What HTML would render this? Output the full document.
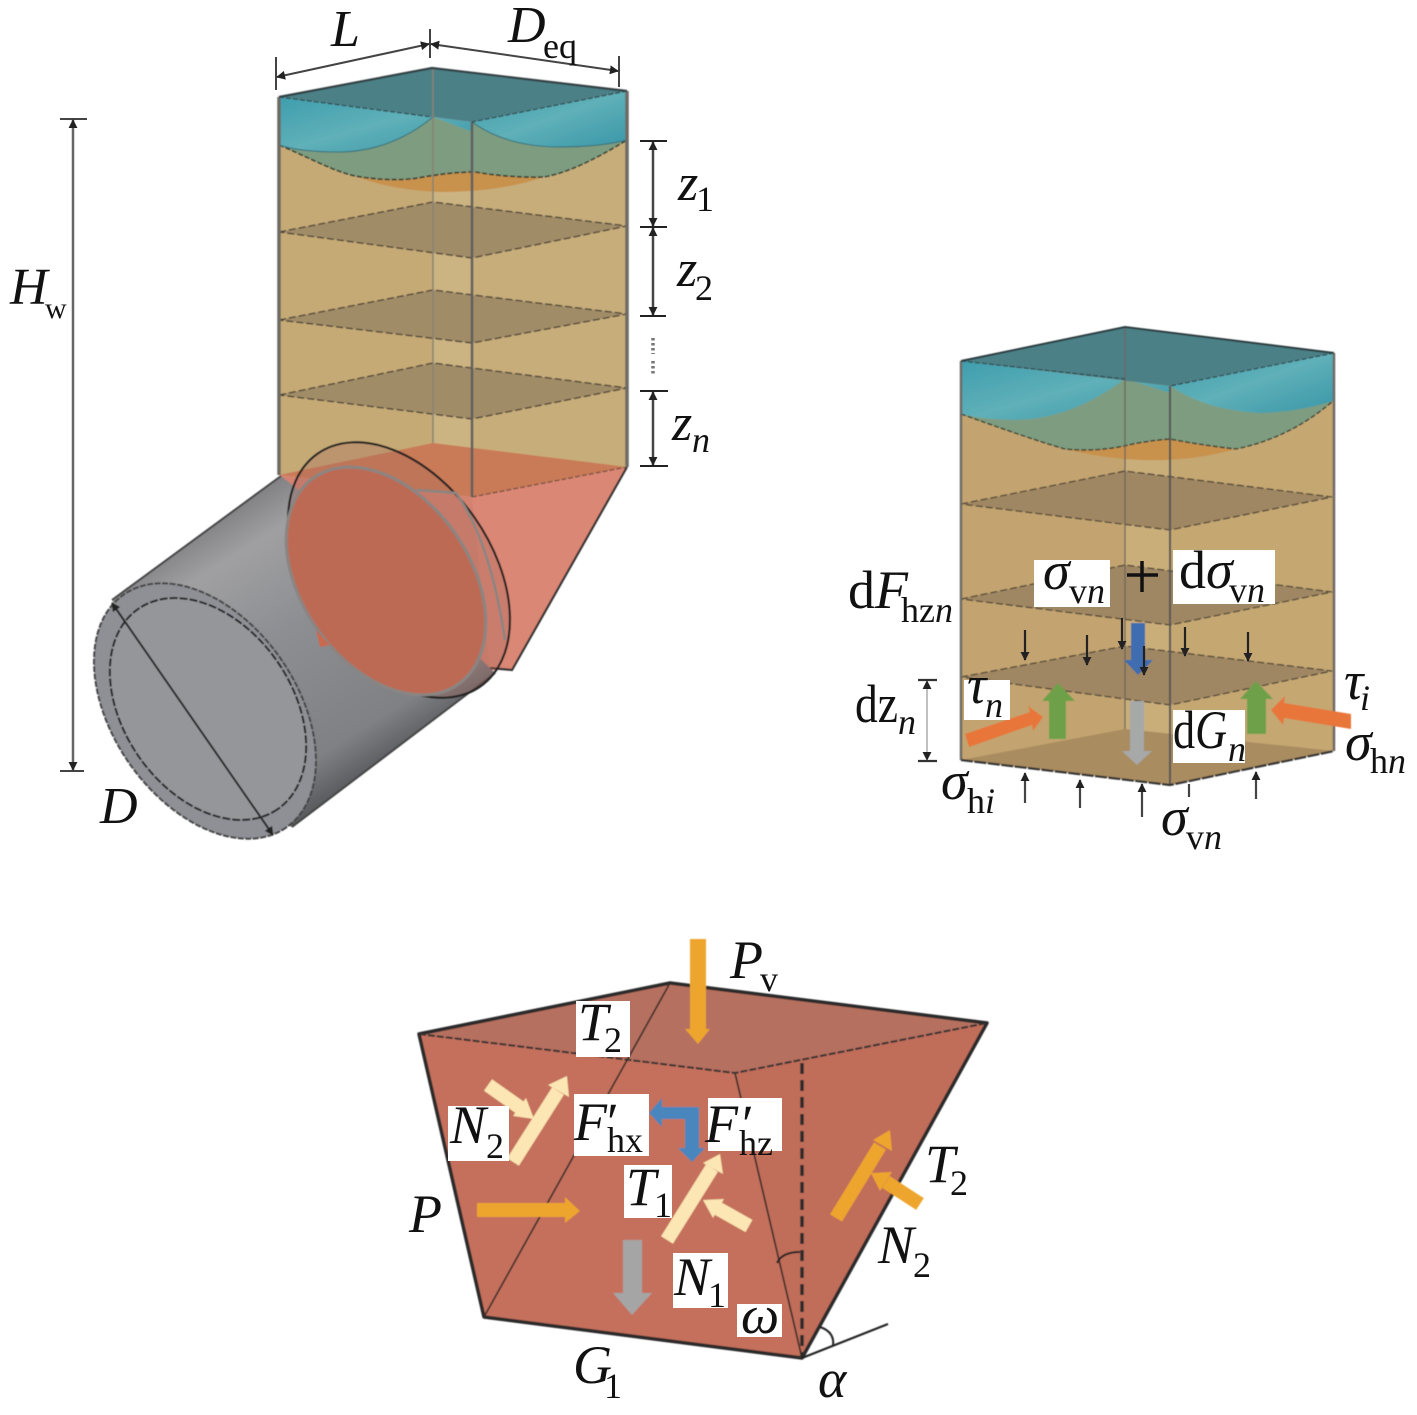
<!DOCTYPE html>
<html><head><meta charset="utf-8"><style>
html,body{margin:0;padding:0;background:#fff}
svg{display:block}
text{font-family:"Liberation Serif","DejaVu Serif",serif;fill:#111;font-size:54px}
.i{font-style:italic}
.s{font-size:36px}
.c{font-size:52px}
</style></head><body>
<svg width="1417" height="1415" viewBox="0 0 1417 1415" xmlns="http://www.w3.org/2000/svg">
<defs>
<linearGradient id="w1" x1="0" y1="0" x2="1" y2="1"><stop offset="0" stop-color="#3f9eae"/><stop offset=".5" stop-color="#5fb0b8"/><stop offset="1" stop-color="#3a97a8"/></linearGradient>
<linearGradient id="cylb" gradientUnits="userSpaceOnUse" x1="200" y1="510" x2="370" y2="780"><stop offset="0" stop-color="#77777a"/><stop offset=".18" stop-color="#a0a0a2"/><stop offset=".45" stop-color="#8e8f93"/><stop offset=".85" stop-color="#808185"/><stop offset="1" stop-color="#55575a"/></linearGradient>
<filter id="soft" x="-5%" y="-5%" width="110%" height="110%"><feGaussianBlur stdDeviation=".6"/></filter>
<marker id="a" viewBox="0 0 10 10" refX="9" refY="5" markerWidth="9" markerHeight="10" markerUnits="userSpaceOnUse" orient="auto-start-reverse"><path d="M0 0L10 5L0 10Z" fill="#222"/></marker>
</defs>

<g filter="url(#soft)">
<!-- COLUMN 1 -->
<polygon points="279,97 472,122 472,497 279,475" fill="#c6aa76"/>
<polygon points="472,122 627,91 627,466 472,497" fill="#c7ad7a"/>
<polygon points="433,117 472,122 472,497 433,445" fill="#ccb482"/>
<!-- water -->
<path d="M279,97 L472,122 L472,132 L433,117 Q390,152 338,152 Q300,152 279,145Z" fill="url(#w1)"/>
<path d="M279,145 Q300,152 338,152 Q390,152 433,117 L472,132 L472,172 Q450,172 418,178 Q390,182 355,176 C335,172 310,158 279,145Z" fill="#7d9c80"/>
<path d="M472,122 L627,91 V140 Q600,147 557,147 Q505,146 472,122Z" fill="url(#w1)"/>
<path d="M472,122 Q505,146 557,147 Q600,147 627,140 Q575,172 544,177 Q510,178 472,172Z" fill="#7d9c80"/>
<path d="M355,176 Q390,182 418,178 Q450,172 475,172 Q510,178 544,177 Q500,192 440,192 Q390,190 355,176Z" fill="#c8924e"/>
<polygon points="279,97 432,68 627,91 472,122" fill="#4b8087"/>
<path d="M279,145 C310,158 335,172 355,176 Q390,182 418,178 Q450,172 475,172 Q510,178 544,177 Q575,172 627,140" fill="none" stroke="#2f3a30" stroke-width="1.6" stroke-dasharray="5 2"/>
<path d="M279,145 Q300,152 338,152 Q390,152 433,117 M472,122 Q505,146 557,147 Q600,147 627,140" fill="none" stroke="#35707c" stroke-width="1"/>
<!-- layers -->
<g fill="#a18c68" stroke="#4a4234" stroke-width="1.4" stroke-dasharray="7 3">
<polygon points="279,232 433,202 627,226 472,258"/>
<polygon points="279,320 433,290 627,314 472,343"/>
<polygon points="279,395 433,363 627,388 472,419"/>
</g>
<!-- wedge -->
<polygon points="279,475 472,497 512,670 490,670" fill="#d58270"/>
<polygon points="472,497 627,467 512,670 490,670" fill="#db8775"/>
<polygon points="279,475 433,443 627,467 472,497" fill="#c97a56"/>
<path d="M627,467 L512,670 L490,668" fill="none" stroke="#333" stroke-width="2.2"/>
<path d="M472,497 L627,467" stroke="#6a4a3c" stroke-width="1.2" stroke-dasharray="5 2"/>
<!-- outlines -->
<path d="M279,97 V475 M627,91 V467" stroke="#6d6a64" stroke-width="3.5" fill="none"/>
<path d="M472,122 V497" stroke="#5f5f5f" stroke-width="2.5"/>
<path d="M433,68 V443" stroke="#8a8272" stroke-width="1.5"/>
<path d="M279,97 L432,68 L627,91" stroke="#333f42" stroke-width="2.2" fill="none"/>
<path d="M279,97 L432,117 M627,91 L472,122" stroke="#2e4448" stroke-width="1.2" stroke-dasharray="5 2" fill="none"/>

<!-- CYLINDER -->
<path d="M112,600 L281,476 L350,530 L495,673 L292,827 L190,780Z" fill="url(#cylb)"/>
<path d="M112,600 L281,476 M292,827 L495,673" stroke="#444" stroke-width="2" fill="none"/>
<ellipse cx="399" cy="570" rx="142" ry="92" transform="rotate(55 399 570)" fill="#a86a5c" fill-opacity=".32" stroke="#222" stroke-width="2.2"/>
<path d="M417,490 L456,493 Q490,540 505,640" fill="none" stroke="#8a8582" stroke-width="2.5"/>
<ellipse cx="386" cy="581" rx="126" ry="84" transform="rotate(55 386 581)" fill="#bd6a55" stroke="#8a8582" stroke-width="3"/>
<polygon points="316,630 330,645 320,647" fill="#c9694f"/>
<ellipse cx="205" cy="711" rx="142" ry="92" transform="rotate(55 205 711)" fill="#8f9096" stroke="#444" stroke-width="2" stroke-dasharray="6 1.5"/>
<ellipse cx="208" cy="709" rx="122" ry="84" transform="rotate(55 208 709)" fill="#95969a" stroke="#222" stroke-width="2" stroke-dasharray="8 2"/>
<path d="M112,603 L273,835" stroke="#222" stroke-width="2" marker-start="url(#a)" marker-end="url(#a)"/>
</g>

<!-- dims col 1 -->
<g fill="none" stroke="#444" stroke-width="2">
<path d="M276,57V90M430,29V58M619,56V87"/>
<path d="M277,77L429,44" marker-start="url(#a)" marker-end="url(#a)"/>
<path d="M431,44L618,71" marker-start="url(#a)" marker-end="url(#a)"/>
<path d="M60,119H87M60,771H84"/>
<path d="M73,120V770" stroke-width="2.5" stroke="#666" marker-start="url(#a)" marker-end="url(#a)"/>
<path d="M640,141H667M640,227H667M640,316H666M640,391H668M640,466H668" stroke="#222"/>
<path d="M653,142V226" marker-start="url(#a)" marker-end="url(#a)" stroke-width="2.5"/>
<path d="M653,228V315" marker-start="url(#a)" marker-end="url(#a)" stroke-width="2.5"/>
<path d="M653,392V465" marker-start="url(#a)" marker-end="url(#a)" stroke-width="2.5"/>
<path d="M653,338V354M653,361V376" stroke="#777" stroke-width="3.5" stroke-dasharray="2.5 2.5"/>
</g>

<!-- COLUMN 2 -->
<g filter="url(#soft)">
<polygon points="961,361 1170,386 1170,785 961,760" fill="#c3a46f"/>
<polygon points="1170,386 1334,353 1334,751 1170,785" fill="#c5a772"/>
<polygon points="1125,379 1170,386 1170,785 1125,729" fill="#caae7a"/>
<path d="M961,361 L1170,386 L1170,393 L1125,379 Q1070,420 1015,420 Q985,420 961,414Z" fill="url(#w1)"/>
<path d="M961,414 Q985,420 1015,420 Q1070,420 1125,379 L1170,393 L1170,439 Q1145,441 1124,446 Q1095,452 1065,449 C1040,442 1000,428 961,414Z" fill="#7d9c80"/>
<path d="M1170,386 L1334,353 V401 Q1295,413 1258,413 Q1205,410 1170,386Z" fill="url(#w1)"/>
<path d="M1170,386 Q1205,410 1258,413 Q1295,413 1333,401 Q1290,438 1236,449 Q1200,445 1170,439Z" fill="#7d9c80"/>
<path d="M1065,449 Q1095,452 1124,446 Q1145,441 1170,439 Q1200,445 1236,449 Q1190,462 1140,460 Q1100,458 1065,449Z" fill="#c8924e"/>
<polygon points="961,361 1125,327 1334,353 1170,386" fill="#4b8087"/>
<path d="M961,414 C1000,428 1040,442 1065,449 Q1095,452 1124,446 Q1145,441 1170,439 Q1200,445 1236,449 Q1290,438 1333,401" fill="none" stroke="#2f3a30" stroke-width="1.4" stroke-dasharray="5 2"/>
<g fill="#a08763" stroke="#4a4234" stroke-width="1.3" stroke-dasharray="7 3">
<polygon points="961,504 1125,471 1332,497 1170,530"/>
<polygon points="961,599 1125,565 1332,592 1170,625"/>
<polygon points="961,677 1125,646 1332,671 1170,705"/>
</g>
<polygon points="961,760 1125,729 1334,751 1170,785" fill="#a98c60"/>
<path d="M961,361V760M1334,353V751" stroke="#6d6a64" stroke-width="2.5"/>
<path d="M1170,386V785" stroke="#555" stroke-width="2"/>
<path d="M1125,327V729" stroke="#6b665c" stroke-width="1.3"/>
<path d="M961,361L1125,327L1334,353" fill="none" stroke="#2c3a3d" stroke-width="2"/>
<path d="M961,361L1125,379M1334,353L1170,386" fill="none" stroke="#2e4448" stroke-width="1.2" stroke-dasharray="5 2"/>
<path d="M961,760L1170,785L1334,751" fill="none" stroke="#333" stroke-width="2.2" stroke-dasharray="12 1.5"/>

<!-- thick arrows col 2 -->
<polygon points="1131,623 1145,623 1145,660 1153,660 1138,675 1124,660 1131,660" fill="#3f6cb0"/>
<polygon points="1130,701 1144,701 1144,751 1152,751 1137,765 1122,751 1130,751" fill="#a7a8a8"/>
<polygon points="1049,739 1066,739 1066,701 1075,701 1058,683 1042,701 1049,701" fill="#6ea048"/>
<polygon points="1247,734 1266,734 1266,699 1273,699 1256,681 1240,699 1247,699" fill="#6ea048"/>
<polygon points="965,734 1030,712 1028,706 1043,717 1033,731 1032,725 969,747" fill="#e8763a"/>
<polygon points="1351,714 1284,703 1285,696 1271,710 1283,725 1284,718 1351,729" fill="#e8763a"/>
</g>

<!-- small arrows -->
<g stroke="#222" stroke-width="2.2" fill="none">
<path d="M1025,630V660" marker-end="url(#a)"/>
<path d="M1087,635V665" marker-end="url(#a)"/>
<path d="M1122,618V649" marker-end="url(#a)"/>
<path d="M1144,646V675" marker-end="url(#a)"/>
<path d="M1185,627V656" marker-end="url(#a)"/>
<path d="M1248,632V661" marker-end="url(#a)"/>
<path d="M1025,803V773" stroke="#444" marker-end="url(#a)"/>
<path d="M1080,808V780" stroke="#444" marker-end="url(#a)"/>
<path d="M1142,817V784" stroke="#444" marker-end="url(#a)"/>
<path d="M1189,797V784" stroke="#444"/>
<path d="M1256,799V772" stroke="#444" marker-end="url(#a)"/>
<path d="M918,680H937M918,761H937" stroke="#333"/>
</g>
<path d="M927,681V760" stroke="#aaa" stroke-width="1.5" fill="none" marker-start="url(#a)" marker-end="url(#a)"/>

<!-- boxes col 2 -->
<g fill="#fff">
<rect x="1034" y="560" width="76" height="47"/>
<rect x="1173" y="550" width="102" height="54"/>
<rect x="964" y="680" width="46" height="40"/>
<rect x="1173" y="710" width="72" height="53"/>
</g>
<path d="M1127,575H1158M1142,561V592" stroke="#111" stroke-width="3.5"/>

<!-- BOTTOM WEDGE -->
<g filter="url(#soft)">
<polygon points="419,1034 670,983 987,1023 802,1358 484,1317" fill="#c4705c"/>
<polygon points="419,1034 670,983 987,1023 735,1073" fill="#b6705f"/>
<polygon points="735,1073 987,1023 802,1358" fill="#c06d5a"/>
<path d="M419,1034L670,983L987,1023L802,1358L484,1317Z" fill="none" stroke="#2a2a2a" stroke-width="3.5" stroke-linejoin="round"/>
<path d="M670,983L484,1317M735,1073L802,1358" stroke="#3a2d2a" stroke-width="1.7" fill="none"/>
<path d="M419,1034L735,1073L987,1023" stroke="#333" stroke-width="2" stroke-dasharray="7 2" fill="none"/>
<path d="M802,1063V1358" stroke="#2a2a2a" stroke-width="3.5" stroke-dasharray="11 6" fill="none"/>
<path d="M802,1358L888,1324" stroke="#222" stroke-width="2.2"/>
<path d="M820,1327Q835,1332 833,1346" stroke="#222" stroke-width="2" fill="none"/>
<path d="M777,1263Q782,1252 800,1252" stroke="#222" stroke-width="2" fill="none"/>

<!-- arrows -->
<polygon points="690,939 706,939 706,1029 710,1029 698,1044 685,1029 690,1029" fill="#eda52e"/>
<polygon points="477,1203 565,1203 565,1197 580,1211 565,1223 565,1217 477,1217" fill="#eda52e"/>
<polygon points="623,1240 642,1240 642,1293 652,1293 632,1315 613,1293 623,1293" fill="#a5a5a5"/>
<polygon points="649,1113 662,1098 662,1107 699,1107 699,1148 705,1148 692,1162 678,1148 685,1148 685,1119 662,1119 662,1127" fill="#4a86bd"/>
<g fill="none" stroke-width="14">
<path d="M513,1162L558,1091" stroke="#fbe6b4"/>
<path d="M488,1085L522,1109" stroke="#fbe6b4"/>
<path d="M667,1240L712,1168" stroke="#fbe6b4"/>
<path d="M749,1226L717,1208" stroke="#fbe6b4"/>
<path d="M836,1218L880,1146" stroke="#eda52e"/>
<path d="M920,1204L886,1182" stroke="#eda52e"/>
</g>
<polygon points="567,1076 569,1097 548,1085" fill="#fbe6b4"/>
<polygon points="534,1119 513,1116 526,1098" fill="#fbe6b4"/>
<polygon points="720,1154 723,1174 703,1163" fill="#fbe6b4"/>
<polygon points="703,1200 724,1199 713,1218" fill="#fbe6b4"/>
<polygon points="890,1130 892,1151 873,1140" fill="#eda52e"/>
<polygon points="871,1173 892,1172 880,1191" fill="#eda52e"/>
</g>

<!-- boxes bottom -->
<g fill="#fff">
<rect x="576" y="1001" width="54" height="56"/>
<rect x="448" y="1106" width="61" height="55"/>
<rect x="574" y="1094" width="75" height="62"/>
<rect x="708" y="1098" width="74" height="53"/>
<rect x="624" y="1165" width="48" height="53"/>
<rect x="673" y="1253" width="55" height="55"/>
<rect x="737" y="1304" width="45" height="33"/>
</g>

<!-- LABELS col 1 -->
<text class="i c" x="331" y="46">L</text>
<text class="i c" x="508" y="42">D</text><text class="s" x="543" y="58">eq</text>
<text class="i c" x="10" y="304">H</text><text x="45" y="318" style="font-size:30px">w</text>
<text class="i c" x="678" y="200">z</text><text class="s" x="696" y="211">1</text>
<text class="i c" x="677" y="286">z</text><text class="s" x="695" y="300">2</text>
<text class="i c" x="672" y="440">z</text><text class="i s" x="692" y="452">n</text>
<text class="i c" x="100" y="823">D</text>

<!-- LABELS col 2 -->
<text x="848" y="608">d<tspan class="i">F</tspan></text><text class="s" x="901" y="622">hz<tspan class="i">n</tspan></text>
<text class="i" x="1043" y="589">σ</text><text class="s" x="1069" y="603">v<tspan class="i">n</tspan></text>
<text x="1179" y="588">d<tspan class="i">σ</tspan></text><text class="s" x="1229" y="602">v<tspan class="i">n</tspan></text>
<text x="855" y="722" textLength="43" lengthAdjust="spacingAndGlyphs">dz</text><text class="i s" x="898" y="734">n</text>
<text class="i" x="967" y="703">τ</text><text class="i s" x="985" y="717">n</text>
<text class="i" x="1344" y="699">τ</text><text class="i s" x="1360" y="710">i</text>
<text x="1173" y="748" textLength="54" lengthAdjust="spacingAndGlyphs">d<tspan class="i">G</tspan></text><text class="i s" x="1228" y="761">n</text>
<text class="i" x="1345" y="760">σ</text><text class="s" x="1370" y="773">h<tspan class="i">n</tspan></text>
<text class="i" x="941" y="799">σ</text><text class="s" x="967" y="813">h<tspan class="i">i</tspan></text>
<text class="i" x="1161" y="835">σ</text><text class="s" x="1186" y="849">v<tspan class="i">n</tspan></text>

<!-- LABELS bottom -->
<text class="i" x="730" y="978">P</text><text class="s" x="760" y="991">v</text>
<text class="i" x="578" y="1040">T</text><text class="s" x="604" y="1052">2</text>
<text class="i" x="450" y="1143">N</text><text class="s" x="486" y="1158">2</text>
<text class="i" x="574" y="1140">F</text><text x="607" y="1140">′</text><text class="s" x="607" y="1152">hx</text>
<text class="i" x="705" y="1142">F</text><text x="742" y="1142">′</text><text class="s" x="739" y="1155">hz</text>
<text class="i" x="626" y="1205">T</text><text class="s" x="654" y="1217">1</text>
<text class="i" x="674" y="1295">N</text><text class="s" x="708" y="1307">1</text>
<text class="i" x="741" y="1333">ω</text>
<text class="i" x="409" y="1232">P</text>
<text class="i" x="925" y="1182">T</text><text class="s" x="950" y="1195">2</text>
<text class="i" x="878" y="1263">N</text><text class="s" x="913" y="1277">2</text>
<text class="i" x="573" y="1383">G</text><text class="s" x="604" y="1398">1</text>
<text class="i" x="818" y="1397">α</text>
</svg>
</body></html>
